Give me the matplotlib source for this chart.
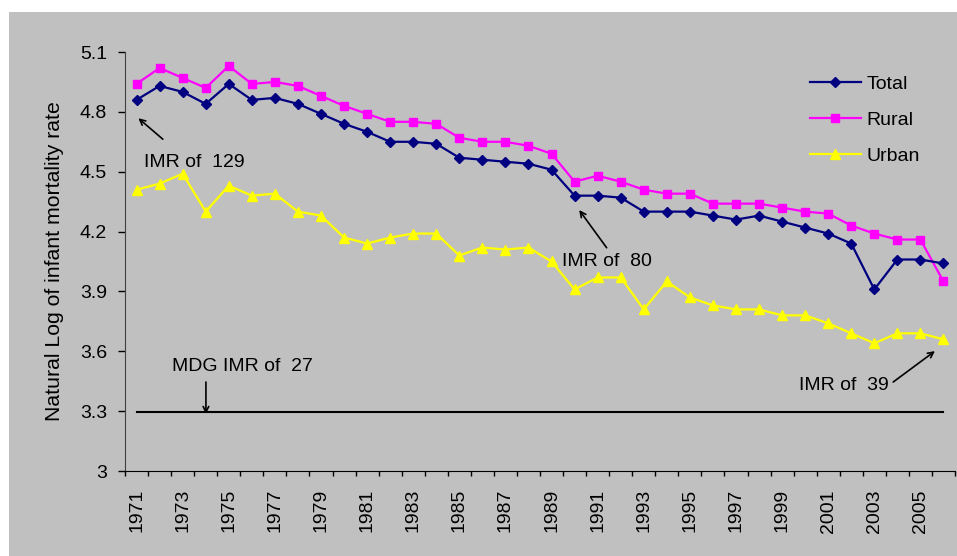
#!/usr/bin/env python3

# Natural log of infant mortality rate, 1971-2006 (Total / Rural / Urban)

import numpy as np
import matplotlib
matplotlib.use('Agg')
import matplotlib.pyplot as plt
from matplotlib.patches import Rectangle

plt.rcParams['font.family'] = ['Liberation Sans', 'DejaVu Sans']

years = list(range(1971, 2007))
total = [4.86, 4.93, 4.90, 4.84, 4.94, 4.86, 4.87, 4.84, 4.79, 4.74,
         4.70, 4.65, 4.65, 4.64, 4.57, 4.56, 4.55, 4.54, 4.51, 4.38,
         4.38, 4.37, 4.30, 4.30, 4.30, 4.28, 4.26, 4.28, 4.25, 4.22,
         4.19, 4.14, 3.91, 4.06, 4.06, 4.04]
rural = [4.94, 5.02, 4.97, 4.92, 5.03, 4.94, 4.95, 4.93, 4.88, 4.83,
         4.79, 4.75, 4.75, 4.74, 4.67, 4.65, 4.65, 4.63, 4.59, 4.45,
         4.48, 4.45, 4.41, 4.39, 4.39, 4.34, 4.34, 4.34, 4.32, 4.30,
         4.29, 4.23, 4.19, 4.16, 4.16, 3.95]
urban = [4.41, 4.44, 4.49, 4.30, 4.43, 4.38, 4.39, 4.30, 4.28, 4.17,
         4.14, 4.17, 4.19, 4.19, 4.08, 4.12, 4.11, 4.12, 4.05, 3.91,
         3.97, 3.97, 3.81, 3.95, 3.87, 3.83, 3.81, 3.81, 3.78, 3.78,
         3.74, 3.69, 3.64, 3.69, 3.69, 3.66]
mdg_imr = 27
yticks = [3, 3.3, 3.6, 3.9, 4.2, 4.5, 4.8, 5.1]

W, H = 957, 556
fig = plt.figure(figsize=(W/100, H/100), dpi=100, facecolor='white')
bg = Rectangle((9/W, 0), 1 - 9/W, 1 - 12/H, transform=fig.transFigure,
               facecolor='#c0c0c0', edgecolor='none', zorder=-10)
fig.add_artist(bg)

ax = fig.add_axes([125/W, (H-471)/H, (955-125)/W, (471-52)/H])
ax.set_facecolor('none')
ax.set_zorder(1)

x = np.arange(len(years))
fs = 14

ax.plot(x, np.full(len(years), np.log(mdg_imr)), color='black', lw=1.5, zorder=2)
ax.plot(x, urban, color='#ffff00', lw=1.6, marker='^', ms=7, label='Urban', zorder=3)
ax.plot(x, rural, color='#ff00ff', lw=1.6, marker='s', ms=5.5, label='Rural', zorder=4)
ax.plot(x, total, color='#000080', lw=1.6, marker='D', ms=5.5, label='Total', zorder=5)

ax.set_xlim(-0.5, len(years) - 0.5)
ax.set_ylim(3, 5.1)
ax.set_yticks(yticks)
ax.set_yticklabels([('%g' % v) for v in yticks], fontsize=fs)
ax.set_xticks(x[::2])
ax.set_xticklabels([str(y) for y in years[::2]], rotation=90, fontsize=fs)
ax.set_xticks(np.arange(len(years) + 1) - 0.5, minor=True)
ax.tick_params(axis='x', which='major', length=0, pad=13)
ax.tick_params(axis='x', which='minor', length=3.6, width=1, direction='out')
ax.tick_params(axis='y', length=5, width=1, direction='out', pad=8)

for s in ['top', 'right']:
    ax.spines[s].set_visible(False)
ax.spines['left'].set_color('#404040')
ax.spines['bottom'].set_color('black')

ax.set_ylabel('Natural Log of infant mortality rate', fontsize=15.3, labelpad=11)

# annotations
arr = dict(arrowstyle='->', color='black', lw=1.2, shrinkA=0, shrinkB=0)
ax.text(0.33, 4.544, 'IMR of  129', fontsize=fs, va='center', ha='left')
ax.annotate('', xy=(0.08, 4.768), xytext=(1.14, 4.663), arrowprops=arr)
ax.text(18.44, 4.049, 'IMR of  80', fontsize=fs, va='center', ha='left')
ax.annotate('', xy=(19.20, 4.308), xytext=(20.39, 4.119), arrowprops=arr)
ax.text(28.74, 3.431, 'IMR of  39', fontsize=fs, va='center', ha='left')
ax.annotate('', xy=(34.63, 3.601), xytext=(32.82, 3.446), arrowprops=arr)
ax.text(1.53, 3.526, 'MDG IMR of  27', fontsize=fs, va='center', ha='left')
ax.annotate('', xy=(3.01, 3.286), xytext=(3.01, 3.446), arrowprops=arr)

handles, labels = ax.get_legend_handles_labels()
order = [2, 1, 0]
ax.legend([handles[i] for i in order], [labels[i] for i in order],
          loc='upper left', bbox_to_anchor=(810/W, 1 - 75/H),
          bbox_transform=fig.transFigure, frameon=False, fontsize=fs,
          handlelength=2.6, handletextpad=0.3, labelspacing=0.95,
          borderpad=0, borderaxespad=0)

plt.savefig('out.png', dpi=100, facecolor='white')
